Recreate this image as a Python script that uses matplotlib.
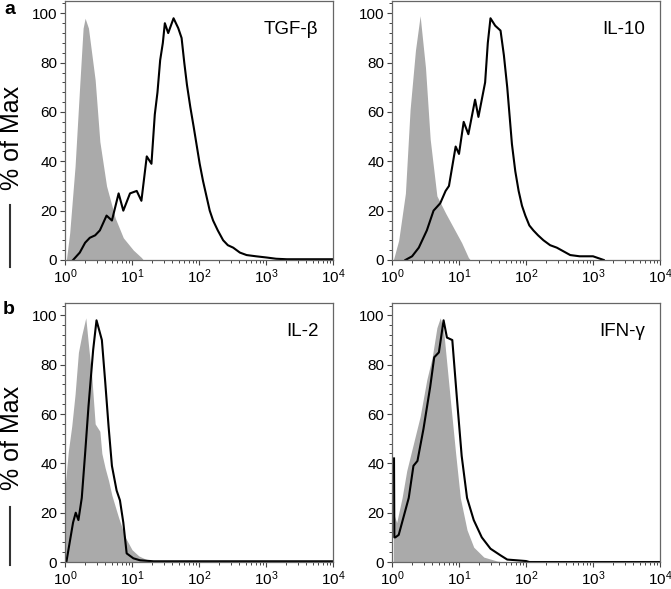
import numpy as np
import matplotlib.pyplot as plt
from matplotlib.ticker import LogLocator, MultipleLocator, LogFormatterSciNotation
from matplotlib.lines import Line2D

plt.rcParams['font.family'] = ['Liberation Sans', 'DejaVu Sans']
plt.rcParams['mathtext.fontset'] = 'custom'
plt.rcParams['mathtext.rm'] = 'Liberation Sans'

# x values given as log10 of fluorescence, y as % of max
tgf_gray_lg = [0.02, 0.07, 0.15, 0.22, 0.27, 0.30, 0.35, 0.45, 0.52, 0.62, 0.75, 0.87, 1.02, 1.14, 1.17]
tgf_gray_y = [0, 11, 38, 71, 94, 98, 94, 73, 48, 30, 17, 9, 4, 1, 0]
tgf_black_lg = [0.12, 0.22, 0.30, 0.37, 0.45, 0.52, 0.62, 0.70, 0.80, 0.87, 0.97, 1.07, 1.14, 1.22, 1.29,
                1.34, 1.38, 1.42, 1.46, 1.49, 1.54, 1.58, 1.62, 1.69, 1.74, 1.78, 1.82, 1.87, 1.92, 2.01,
                2.06, 2.11, 2.16, 2.21, 2.28, 2.36, 2.43, 2.51, 2.61, 2.71, 2.85, 3.01, 3.15, 3.31, 4.0]
tgf_black_y = [0, 3, 7, 9, 10, 12, 18, 16, 27, 20, 27, 28, 24, 42, 39,
               59, 68, 81, 88, 96, 92, 95, 98, 94, 90, 80, 71, 62, 54, 39,
               32, 26, 20, 16, 12, 8, 6, 5, 3, 2, 1.5, 1, 0.5, 0.3, 0.3]

il10_gray_lg = [0.02, 0.10, 0.20, 0.27, 0.35, 0.42, 0.50, 0.57, 0.67, 0.80, 0.92, 1.04, 1.14, 1.17]
il10_gray_y = [0, 8, 27, 61, 85, 99, 78, 49, 26, 19, 13, 7, 1, 0]
il10_black_lg = [0.20, 0.30, 0.40, 0.52, 0.62, 0.72, 0.80, 0.85, 0.95, 1.00, 1.07, 1.14, 1.24, 1.29, 1.39,
                 1.43, 1.47, 1.54, 1.62, 1.67, 1.72, 1.79, 1.84, 1.89, 1.94, 1.99, 2.05, 2.11, 2.18, 2.26,
                 2.36, 2.46, 2.56, 2.66, 2.80, 3.00, 3.16]
il10_black_y = [0, 1.5, 5, 12, 20, 23, 28, 30, 46, 43, 56, 51, 65, 58, 72,
                88, 98, 95, 93, 83, 70, 47, 36, 28, 22, 18, 14, 12, 10, 8,
                6, 5, 3.5, 2, 1.5, 1.5, 0]

il2_gray_lg = [0.0, 0.05, 0.10, 0.15, 0.20, 0.25, 0.31, 0.35, 0.40, 0.45, 0.52, 0.55, 0.60, 0.65, 0.70,
               0.80, 0.90, 1.00, 1.10, 1.20, 1.30, 1.40, 1.50]
il2_gray_y = [30, 45, 55, 68, 85, 92, 99, 88, 75, 56, 53, 44, 38, 33, 27,
              18, 10, 5, 2.5, 1.2, 0.5, 0.2, 0]
il2_black_lg = [0.02, 0.07, 0.12, 0.16, 0.20, 0.25, 0.30, 0.35, 0.42, 0.47, 0.55, 0.60, 0.65, 0.70, 0.77,
                0.82, 0.87, 0.92, 1.02, 1.12, 1.32, 4.0]
il2_black_y = [0, 8, 16, 20, 17, 26, 44, 63, 86, 98, 90, 73, 55, 39, 29,
               25, 16, 3.5, 1.5, 0.7, 0.3, 0.3]

ifn_gray_lg = [0.02, 0.07, 0.15, 0.22, 0.32, 0.42, 0.52, 0.60, 0.67, 0.72, 0.77, 0.82, 0.87, 0.95, 1.02,
               1.12, 1.22, 1.37, 1.57, 1.67]
ifn_gray_y = [20, 16, 26, 37, 48, 59, 74, 83, 95, 99, 94, 80, 66, 44, 26,
              13, 6, 2, 0.4, 0]
ifn_black_lg = [0.03, 0.035, 0.05, 0.10, 0.17, 0.25, 0.32, 0.38, 0.47, 0.57, 0.63, 0.70, 0.77, 0.82, 0.90,
                0.97, 1.04, 1.12, 1.22, 1.34, 1.47, 1.62, 1.72, 2.00, 2.05, 4.0]
ifn_black_y = [42, 10, 10, 11, 18, 26, 39, 41, 54, 71, 83, 85, 98, 91, 90,
               66, 43, 26, 17, 10, 5.4, 2.7, 1, 0.4, 0, 0]

names = ['TGF-β', 'IL-10', 'IL-2', 'IFN-γ']
grays = [(tgf_gray_lg, tgf_gray_y), (il10_gray_lg, il10_gray_y), (il2_gray_lg, il2_gray_y), (ifn_gray_lg, ifn_gray_y)]
blacks = [(tgf_black_lg, tgf_black_y), (il10_black_lg, il10_black_y), (il2_black_lg, il2_black_y), (ifn_black_lg, ifn_black_y)]

fig = plt.figure(figsize=(6.71, 5.89), dpi=100)
lefts = [0.0969, 0.5842, 0.0969, 0.5842]
bottoms = [0.5586, 0.5586, 0.0458, 0.0458]
w, h = 0.3994, 0.4397

for i in range(4):
    ax = fig.add_axes([lefts[i], bottoms[i], w, h])
    gx = 10 ** np.array(grays[i][0])
    ax.fill_between(gx, grays[i][1], 0, color='#aaaaaa', lw=0)
    bx = 10 ** np.array(blacks[i][0])
    ax.plot(bx, blacks[i][1], color='black', lw=1.5)
    ax.set_xscale('log')
    ax.set_xlim(1, 1e4)
    ax.set_ylim(0, 105)
    ax.xaxis.set_major_locator(LogLocator(base=10, numticks=10))
    ax.xaxis.set_minor_locator(LogLocator(base=10, subs=np.arange(2, 10), numticks=20))
    ax.xaxis.set_major_formatter(LogFormatterSciNotation())
    ax.yaxis.set_major_locator(MultipleLocator(20))
    ax.yaxis.set_minor_locator(MultipleLocator(4))
    ax.tick_params(which='major', length=3.6, width=0.8, color='#444444', labelsize=11, pad=2)
    ax.tick_params(which='minor', length=2, width=0.7, color='#444444')
    for s in ax.spines.values():
        s.set_color('#666666')
        s.set_linewidth(0.9)
    ax.text(0.945, 0.89, names[i], transform=ax.transAxes, ha='right', va='center', fontsize=13.5)

# y labels with the small bar below each
for yc, y0, y1 in [(138, 205, 267), (438, 507, 565)]:
    fig.text(12 / 671, 1 - yc / 589, '% of Max', rotation=90, ha='center', va='center', fontsize=18)
    fig.add_artist(Line2D([10 / 671, 10 / 671], [1 - y0 / 589, 1 - y1 / 589], color='#333333', lw=1.5))

fig.text(10 / 671, 1 - 10 / 589, 'a', ha='center', va='center', fontsize=14, fontweight='bold')
fig.text(9 / 671, 1 - 310 / 589, 'b', ha='center', va='center', fontsize=14, fontweight='bold')

fig.savefig('out.png', dpi=100)
